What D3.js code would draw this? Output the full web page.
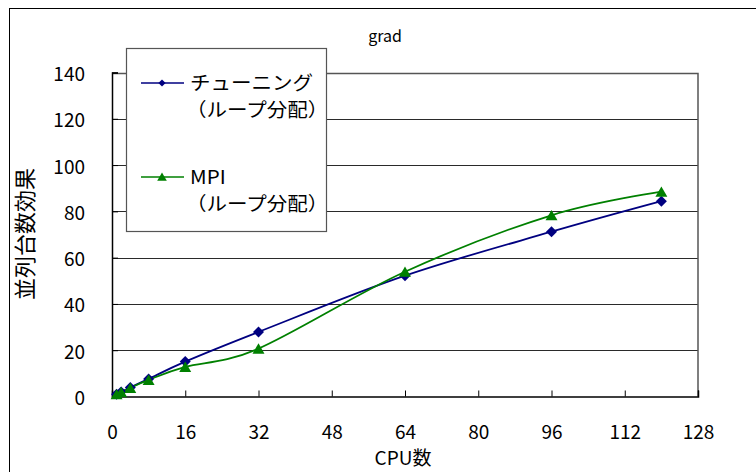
<!DOCTYPE html>
<html>
<head>
<meta charset="utf-8">
<script src="https://cdn.jsdelivr.net/npm/d3@7"></script>
<style>
  html, body { margin: 0; padding: 0; background: #fff; }
  svg { display: block; }
  text { font-family: "Noto Sans CJK JP", "Noto Sans", sans-serif; fill: #000; }
</style>
</head>
<body>
<svg id="chart" width="756" height="472"></svg>
<script>
// CPU counts and parallel speed-up for the two implementations
const cpus = [1, 2, 4, 8, 16, 32, 64, 96, 120];
const tuningSpeedup = [1.0, 2.0, 3.9, 7.6, 15.1, 27.9, 52.2, 71.2, 84.4];
const mpiSpeedup = [1.0, 1.9, 3.7, 7.2, 12.8, 20.7, 53.9, 78.3, 88.5];

const xTicks = [0, 16, 32, 48, 64, 80, 96, 112, 128];
const yTicks = [0, 20, 40, 60, 80, 100, 120, 140];

const titleText = "grad";
const xTitle = "CPU数";
const yTitle = "並列台数効果";
const seriesNames = [
  ["チューニング", "（ループ分配）"],
  ["MPI", "（ループ分配）"]
];

const colors = { tuning: "#000080", mpi: "#008000" };

const svg = d3.select("#chart");
const plot = { left: 112, right: 698, top: 72.5, bottom: 396.5 };

const x = d3.scaleLinear().domain([0, 128]).range([plot.left, plot.right]);
const y = d3.scaleLinear().domain([0, 140]).range([plot.bottom, plot.top]);

// outer chart frame
svg.append("rect")
  .attr("x", 9.5).attr("y", 8.5)
  .attr("width", 800).attr("height", 500)
  .attr("fill", "#fff").attr("stroke", "#000").attr("stroke-width", 1);

// horizontal gridlines
svg.append("g")
  .selectAll("line")
  .data(yTicks.filter(d => d > 0 && d < 140))
  .join("line")
  .attr("x1", plot.left).attr("x2", plot.right)
  .attr("y1", d => Math.round(y(d)) + 0.5).attr("y2", d => Math.round(y(d)) + 0.5)
  .attr("stroke", "#2a2a2a").attr("stroke-width", 1);

// plot frame: top and right edges
svg.append("path")
  .attr("d", `M${plot.left},${Math.round(plot.top) + 0.5}H${plot.right}V${plot.bottom}`)
  .attr("fill", "none").attr("stroke", "#555").attr("stroke-width", 1.5);

// axes with inward ticks
const xAxis = d3.axisBottom(x).tickValues(xTicks).tickSize(-6).tickFormat(d3.format("d"));
const yAxis = d3.axisLeft(y).tickValues(yTicks).tickSize(-6).tickPadding(27).tickFormat(d3.format("d"));

const gx = svg.append("g").attr("transform", `translate(0,${plot.bottom})`).call(xAxis);
const gy = svg.append("g").attr("transform", `translate(${plot.left},0)`).call(yAxis);

[gx, gy].forEach(g => {
  g.select(".domain").attr("stroke", "#000").attr("stroke-width", 1.5);
  g.selectAll(".tick line").attr("stroke", "#000").attr("stroke-width", 1);
  g.selectAll(".tick text")
    .attr("font-family", "'Noto Sans CJK JP', sans-serif")
    .attr("font-size", 19).attr("fill", "#000");
});
gx.selectAll(".tick text").attr("y", 42).attr("dy", 0);
gy.selectAll(".tick text").attr("text-anchor", "end").attr("dy", "0.42em");

// smoothed series lines
const line = d3.line()
  .x(d => x(d[0]))
  .y(d => y(d[1]))
  .curve(d3.curveCatmullRom.alpha(0));

const tuningData = cpus.map((c, i) => [c, tuningSpeedup[i]]);
const mpiData = cpus.map((c, i) => [c, mpiSpeedup[i]]);

svg.append("path").datum(tuningData)
  .attr("d", line).attr("fill", "none")
  .attr("stroke", colors.tuning).attr("stroke-width", 1.8);
svg.append("path").datum(mpiData)
  .attr("d", line).attr("fill", "none")
  .attr("stroke", colors.mpi).attr("stroke-width", 1.8);

// diamond = square turned 45 degrees; triangle box-centred on the point
const diamond = d3.symbol().type(d3.symbolSquare).size(60);
const triangle = d3.symbol().type(d3.symbolTriangle).size(62);

svg.append("g").selectAll("path")
  .data(tuningData).join("path")
  .attr("transform", d => `translate(${x(d[0])},${y(d[1])}) rotate(45)`)
  .attr("d", diamond).attr("fill", colors.tuning);

svg.append("g").selectAll("path")
  .data(mpiData).join("path")
  .attr("transform", d => `translate(${x(d[0])},${y(d[1]) + 1.6})`)
  .attr("d", triangle).attr("fill", colors.mpi);

// legend
const legend = svg.append("g");
legend.append("rect")
  .attr("x", 126.5).attr("y", 48.5).attr("width", 200).attr("height", 183)
  .attr("fill", "#fff").attr("stroke", "#555").attr("stroke-width", 1.2);

const legendRows = [
  { color: colors.tuning, sym: "diamond", y: 83, names: seriesNames[0] },
  { color: colors.mpi, sym: "triangle", y: 177, names: seriesNames[1] }
];
legendRows.forEach(r => {
  legend.append("line")
    .attr("x1", 141).attr("x2", 184).attr("y1", r.y).attr("y2", r.y)
    .attr("stroke", r.color).attr("stroke-width", 1.3);
  legend.append("path")
    .attr("transform", r.sym === "diamond"
      ? `translate(162,${r.y}) rotate(45)` : `translate(162,${r.y + 1})`)
    .attr("d", r.sym === "diamond"
      ? d3.symbol().type(d3.symbolSquare).size(26)()
      : d3.symbol().type(d3.symbolTriangle).size(40)())
    .attr("fill", r.color);
  // labels slightly widened horizontally
  legend.append("text")
    .attr("transform", `translate(190,${r.y + 7}) scale(1.08,1)`)
    .attr("font-size", 19).text(r.names[0]);
  legend.append("text")
    .attr("transform", `translate(186,${r.y + 34}) scale(1.08,1)`)
    .attr("font-size", 19).text(r.names[1]);
});

// titles
svg.append("text")
  .attr("x", 385).attr("y", 42)
  .attr("text-anchor", "middle").attr("font-size", 16)
  .text(titleText);

svg.append("text")
  .attr("x", 403).attr("y", 465)
  .attr("text-anchor", "middle").attr("font-size", 19)
  .text(xTitle);

svg.append("text")
  .attr("transform", "translate(33,234) rotate(-90)")
  .attr("text-anchor", "middle").attr("font-size", 22)
  .text(yTitle);
</script>
</body>
</html>
